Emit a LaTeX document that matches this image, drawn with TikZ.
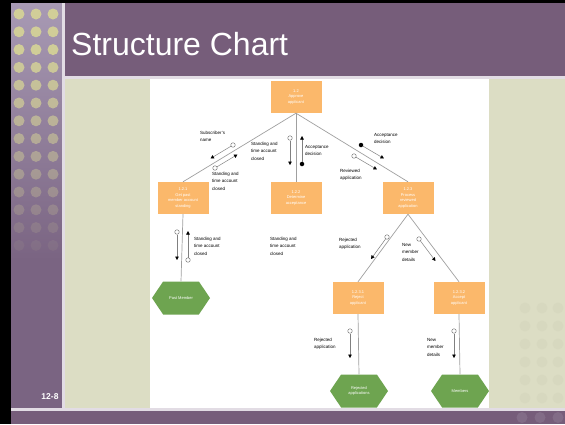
\documentclass[tikz,border=0pt]{standalone}
\usepackage{fontspec}
\setmainfont{Liberation Sans}
\usetikzlibrary{shapes.symbols,arrows.meta}
\definecolor{titlepurple}{RGB}{118,93,122}
\definecolor{sidetop}{RGB}{168,154,180}
\definecolor{sidemid}{RGB}{122,100,130}
\definecolor{dotcol}{RGB}{214,212,150}
\definecolor{beige}{RGB}{220,221,196}
\definecolor{beigedot}{RGB}{212,213,188}
\definecolor{boxorange}{RGB}{251,184,107}
\definecolor{hexgreen}{RGB}{110,164,80}
\definecolor{linkgray}{RGB}{160,160,160}
\definecolor{sepline}{RGB}{226,220,228}
\tikzset{
  box/.style={rectangle, fill=boxorange, minimum width=51pt, minimum height=32pt, inner sep=0pt, align=center, font=\fontsize{4}{5.8}\selectfont, text=white},
  hexa/.style={signal, signal to=west and east, signal pointer angle=112, fill=hexgreen, minimum width=58pt, minimum height=33pt, inner sep=0pt, align=center, font=\fontsize{4}{5.8}\selectfont, text=white},
  link/.style={draw=linkgray, line width=0.7pt},
  couple/.style={draw=gray, line width=0.5pt, -{Triangle[length=3.5pt,width=3.5pt,color=black]}},
  dataflag/.style={circle, draw=gray, fill=white, minimum size=4.5pt, inner sep=0pt, line width=0.5pt},
  ctrlflag/.style={circle, fill=black, minimum size=4.5pt, inner sep=0pt},
  lbl/.style={anchor=north west, align=left, inner sep=0pt, font=\fontsize{4.5}{7.5}\selectfont}
}
\begin{document}
\begin{tikzpicture}[x=1pt,y=-1pt]
\useasboundingbox (0,0) rectangle (565,424);
% frame and background
\fill[black] (0,0) rectangle (565,424);
\fill[beige] (65,79) rectangle (565,408);
\fill[sepline] (11,408) rectangle (565,411);
\fill[titlepurple] (11,411) rectangle (565,424);
\shade[top color=sidetop, bottom color=sidemid] (11,3) rectangle (62,260);
\fill[sidemid] (11,259) rectangle (62,408);
\fill[sepline] (62,3) rectangle (65,408);
\fill[titlepurple] (65,3) rectangle (565,76);
\fill[sepline] (65,76) rectangle (565,79);
% sidebar dots
\foreach \r [count=\i] in {14,31.8,49.6,67.4,85.2,103,120.8,138.6,156.4,174.2,192,209.8,227.6,245.4}{
  \pgfmathsetmacro{\op}{\i<4 ? 0.9 : max(0.06, 0.9-(\i-3)*0.075)}
  \foreach \c in {19,36,53}{
    \fill[dotcol, opacity=\op] (\c,\r) circle (5.5);
  }
}
% faint dots right
\foreach \r in {308,326,344,362,380,398}{
  \foreach \c in {525,542,558}{
    \fill[beigedot, opacity=0.6] (\c,\r) circle (5.5);
  }
}
\foreach \c in {522,540,558}{
  \fill[sidemid!80!white, opacity=0.4] (\c,417.5) circle (5.5);
}
% title
\node[anchor=west, inner sep=0pt, text=white, font=\fontsize{32}{36}\selectfont] (title) at (71,44) {Structure Chart};
\node[inner sep=0pt, text=white, font=\bfseries\fontsize{8.5}{10}\selectfont] (pagenum) at (50,397) {12-8};
% white diagram area
\fill[white] (150,79) rectangle (489,408);
% modules
\node[box] (m12) at (296,97) {1.2\\Approve\\applicant};
\node[box] (m121) at (183,198) {1.2.1\\Get past\\member account\\standing};
\node[box] (m122) at (296,198) {1.2.2\\Determine\\acceptance};
\node[box] (m123) at (408,198) {1.2.3\\Process\\reviewed\\application};
\node[box] (m1231) at (358,298) {1.2.3.1\\Reject\\applicant};
\node[box] (m1232) at (459,298) {1.2.3.2\\Accept\\applicant};
\node[hexa] (past) at (181,298) {Past Member};
\node[hexa] (rej) at (359,391) {Rejected\\applications};
\node[hexa] (mem) at (460,391) {Members};
% links
\draw[link] (m12.south) -- (m121.north);
\draw[link] (m12.south) -- (m122.north);
\draw[link] (m12.south) -- (m123.north);
\draw[link] (m121.south) -- (past.north);
\draw[link] (m123.south) -- (m1231.north);
\draw[link] (m123.south) -- (m1232.north);
\draw[link] (m1231.south) -- (rej.north);
\draw[link] (m1232.south) -- (mem.north);
% couples
\node[dataflag] (f1) at (233,145) {};  \coordinate (e1) at (210.5,158.5);
\node[dataflag] (f2) at (215,168) {};  \coordinate (e2) at (237.5,154.5);
\node[dataflag] (f3) at (290,138) {};  \coordinate (e3) at (290,165);
\node[ctrlflag] (f4) at (302,164) {};  \coordinate (e4) at (302,136);
\node[ctrlflag] (f5) at (361,145) {};  \coordinate (e5) at (384,158.5);
\node[dataflag] (f6) at (354,156) {};  \coordinate (e6) at (377,169.5);
\node[dataflag] (f7) at (177,232) {};  \coordinate (e7) at (177,260);
\node[dataflag] (f8) at (188,260) {};  \coordinate (e8) at (188,231);
\node[dataflag] (f9) at (387,237) {};  \coordinate (e9) at (371,259);
\node[dataflag] (f10) at (419,239) {}; \coordinate (e10) at (435.5,261);
\node[dataflag] (f11) at (350,331) {}; \coordinate (e11) at (350,358);
\node[dataflag] (f12) at (454,331) {}; \coordinate (e12) at (454,358);
\foreach \k in {1,...,12}{ \draw[couple] (f\k) -- (e\k); }
% labels
\node[lbl] (l1) at (200,131) {Subscriber's\\name};
\node[lbl] (l2) at (212,172) {Standing and\\time account\\closed};
\node[lbl] (l3) at (251,142) {Standing and\\time account\\closed};
\node[lbl] (l4) at (305,145) {Acceptance\\decision};
\node[lbl] (l5) at (374,133) {Acceptance\\decision};
\node[lbl] (l6) at (340,169) {Reviewed\\application};
\node[lbl] (l7) at (194,237) {Standing and\\time account\\closed};
\node[lbl] (l8) at (270,237) {Standing and\\time account\\closed};
\node[lbl] (l9) at (339,238) {Rejected\\application};
\node[lbl] (l10) at (402,243) {New\\member\\details};
\node[lbl] (l11) at (314,338) {Rejected\\application};
\node[lbl] (l12) at (427,338) {New\\member\\details};
\end{tikzpicture}
\end{document}
